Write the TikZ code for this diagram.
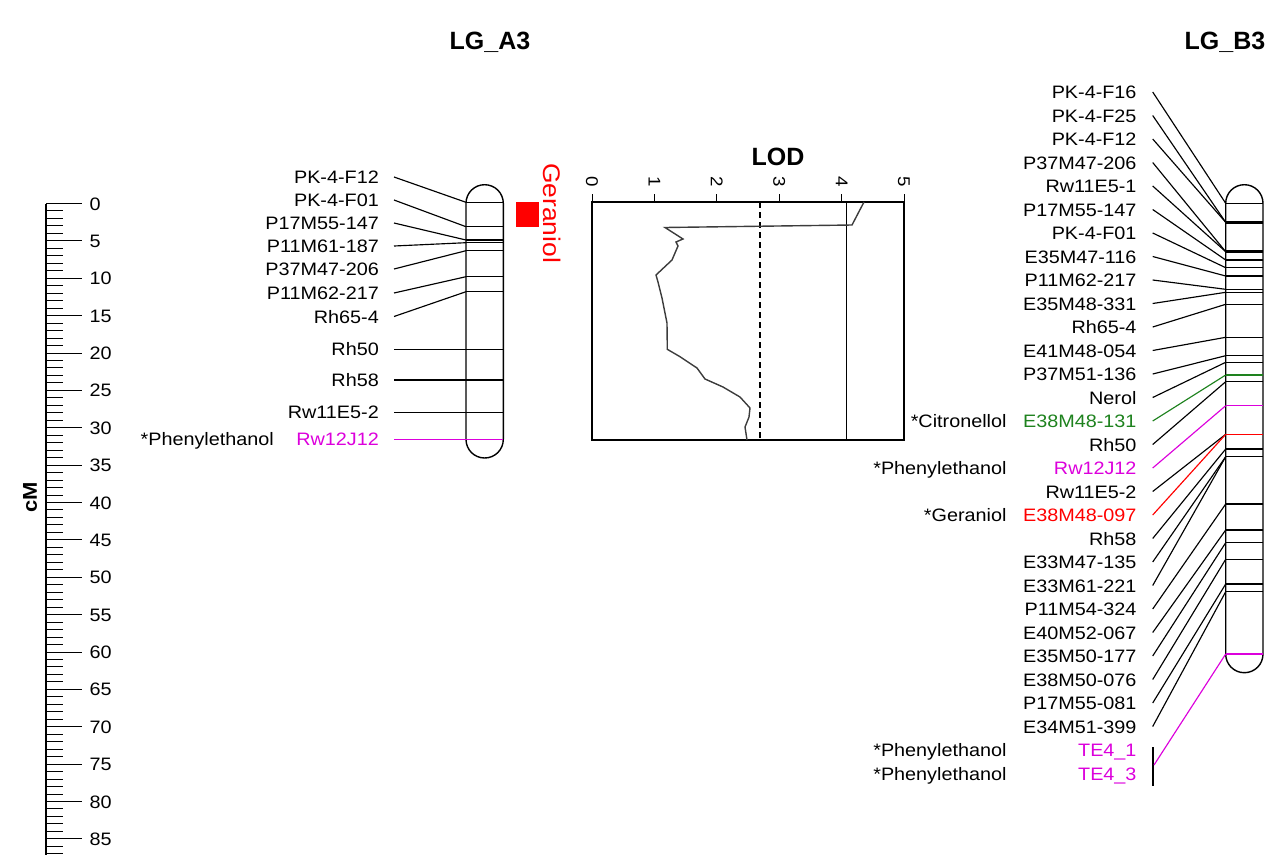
\documentclass[tikz,border=0pt]{standalone}
\usepackage{fontspec}
\setmainfont{Liberation Sans}[FakeStretch=1.1]
\newfontfamily\headfont{Liberation Sans}
\definecolor{mag}{RGB}{220,0,220}
\definecolor{grn}{RGB}{30,130,30}
\definecolor{lodline}{RGB}{60,60,60}
\begin{document}
\begin{tikzpicture}[x=1pt,y=-1pt,
  lab/.style={anchor=east,inner sep=0pt,text height=13pt,text depth=0pt,font=\fontsize{18}{20}\selectfont},
  title/.style={font=\headfont\bfseries\fontsize{25}{28}\selectfont},
  band/.style={line width=1.3pt},
  conn/.style={line width=1.15pt},
  chrom/.style={line width=1.4pt,rounded corners=18.6pt}]
\useasboundingbox (0,0) rectangle (1270,855);

% cM scale
\draw[line width=1.3pt] (46,203.5) -- (46,855);
\foreach \pos in {0,...,87} \draw[line width=1pt] (46,{203.5+7.475*\pos}) -- ++(17,0);
\foreach \pos in {0,5,...,85} \draw[line width=1pt] (46,{203.5+7.475*\pos}) -- ++(36,0) node[lab,anchor=west,xshift=7pt] (s\pos) {\pos};
\node[title,font=\bfseries\fontsize{20}{24}\selectfont,rotate=90] (cm) at (30,497) {cM};

\node[title] (lga) at (490,42) {LG\_A3};
\node[title] (lgb) at (1225,42) {LG\_B3};

% LG_A3
\draw[chrom] (466,184.7) rectangle (503.3,458);
\foreach \i/\t/\ly/\by/\col in {1/PK-4-F12/177/202.3/black, 2/PK-4-F01/200/226.7/black,
  3/P17M55-147/223/240/black, 4/P11M61-187/246/242.7/black, 5/P37M47-206/269/250.7/black,
  6/P11M62-217/293/276.7/black, 7/Rh65-4/316.5/291.7/black, 8/Rh50/349.3/349.3/black,
  9/Rh58/380/380/black, 10/Rw11E5-2/412.3/412.3/black, 11/Rw12J12/439.3/439.3/mag} {
  \coordinate (ab\i) at (466,\by);
  \draw[band,\col] (ab\i) -- ++(37.3,0);
  \node[lab,text=\col] (a\i) at (379,\ly) {\t};
  \draw[conn,\col] ([xshift=15pt]a\i.east) -- (ab\i);
}
\node[lab] (pa) at (274,439.3) {*Phenylethanol};

% QTL and LOD profile
\fill[red] (516,202) rectangle (539,227);
\node[rotate=-90,anchor=west,inner sep=0pt,text=red,font=\fontsize{24}{26}\selectfont] (ger) at (552,163) {Geraniol};
\node[title,font=\headfont\bfseries\fontsize{25}{28}\selectfont] (lod) at (778,157) {LOD};
\draw[line width=1.3pt] (592,202) rectangle (904,440);
\foreach \k in {0,...,5} {
  \draw[line width=1pt] ({592+62.4*\k},202) -- ++(0,-8);
  \node[rotate=-90,inner sep=0pt,font=\fontsize{17}{19}\selectfont] (t\k) at ({592+62.4*\k},182) {\k};
}
\draw[line width=1.2pt,dash pattern=on 6pt off 4pt] (760,202) -- (760,440);
\draw[line width=1.2pt] (846.5,202) -- (846.5,440);
\draw[line width=1.4pt,lodline] plot coordinates {(864,202) (852,225) (665,227.5) (683,239) (676,242)
  (678,246) (672,260) (656,275) (658,282) (662,298) (667,323) (667.3,349.3) (680,356.7) (697,368)
  (705,379) (723,387) (740,397) (750,408) (749,417) (745,427) (747,440)};

% LG_B3
\draw[chrom] (1225.7,184.7) rectangle (1263,672.7);
\draw[line width=2.6pt] (1225.7,222.3) -- ++(37.3,0);
\draw[line width=2.6pt] (1225.7,251.7) -- ++(37.3,0);
\foreach \i/\t/\by/\col in {0/PK-4-F16/203.3/black, 1/PK-4-F25/222.3/black, 2/PK-4-F12/222.3/black,
  3/P37M47-206/251.7/black, 4/Rw11E5-1/251.7/black, 5/P17M55-147/260/black, 6/PK-4-F01/267.7/black,
  7/E35M47-116/276/black, 8/P11M62-217/289.3/black, 9/E35M48-331/292.3/black, 10/Rh65-4/304.3/black,
  11/E41M48-054/337.3/black, 12/P37M51-136/355.7/black, 13/Nerol/362.3/black, 14/E38M48-131/375/grn,
  15/Rh50/381.7/black, 16/Rw12J12/405.7/mag, 17/Rw11E5-2/434.3/black, 18/E38M48-097/434.3/red,
  19/Rh58/449/black, 20/E33M47-135/456.7/black, 21/E33M61-221/456.7/black, 22/P11M54-324/504/black,
  23/E40M52-067/530/black, 24/E35M50-177/542.7/black, 25/E38M50-076/559.3/black,
  26/P17M55-081/584/black, 27/E34M51-399/591.7/black} {
  \coordinate (bb\i) at (1225.7,\by);
  \draw[band,\col] (bb\i) -- ++(37.3,0);
  \node[lab,text=\col] (b\i) at (1136.7,{92+23.5*\i}) {\t};
  \draw[conn,\col] ([xshift=16pt]b\i.east) -- (bb\i);
}
\node[lab,text=mag] (b28) at (1136.7,750) {TE4\_1};
\node[lab,text=mag] (b29) at (1136.7,773.5) {TE4\_3};
\coordinate (bb28) at (1225.7,654);
\draw[band,mag] (bb28) -- ++(37.3,0);
\coordinate (tet) at (1153,747);
\coordinate (teb) at (1153,786);
\coordinate (tem) at (1154,765);
\draw[conn] (tet) -- (teb);
\draw[conn,mag] (tem) -- (bb28);

\node[lab] (pc) at (1006.7,421) {*Citronellol};
\node[lab] (pb1) at (1006.7,468) {*Phenylethanol};
\node[lab] (pg) at (1006.7,515) {*Geraniol};
\node[lab] (pb2) at (1006.7,750) {*Phenylethanol};
\node[lab] (pb3) at (1006.7,773.5) {*Phenylethanol};
\end{tikzpicture}
\end{document}
